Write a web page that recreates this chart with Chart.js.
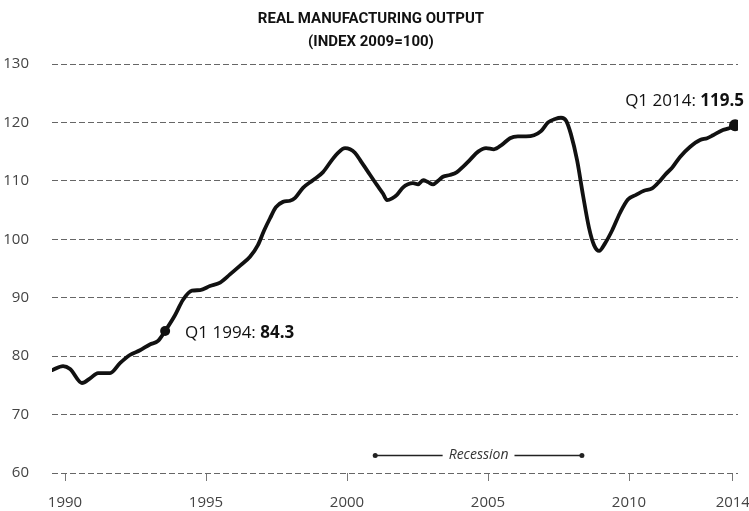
<!DOCTYPE html>
<html>
<head>
<meta charset="utf-8">
<script src="https://cdn.jsdelivr.net/npm/chart.js@4.4.1/dist/chart.umd.min.js"></script>
<style>
    html, body { margin: 0; padding: 0; background: #fff; }
    #wrap { width: 749px; height: 511px; position: relative; }
</style>
</head>
<body>
<div id="wrap"><canvas id="chart"></canvas></div>
<script>
// --- data ---
const years = [
    1989.54, 1989.93, 1990.18, 1990.60, 1990.89, 1991.17, 1991.60, 1991.95, 1992.30, 1992.66,
    1993.01, 1993.30, 1993.55, 1993.90, 1994.18, 1994.50, 1994.79, 1995.14, 1995.50, 1995.85,
    1996.21, 1996.56, 1996.84, 1997.06, 1997.27, 1997.48, 1997.73, 1997.98, 1998.16, 1998.44,
    1998.79, 1999.15, 1999.47, 1999.68, 1999.93, 2000.11, 2000.28, 2000.50, 2000.71, 2001.06,
    2001.28, 2001.42, 2001.60, 2001.77, 2001.99, 2002.16, 2002.34, 2002.52, 2002.70, 2002.87,
    2003.05, 2003.23, 2003.40, 2003.65, 2003.90, 2004.11, 2004.36, 2004.65, 2004.93, 2005.21,
    2005.50, 2005.78, 2006.06, 2006.35, 2006.63, 2006.88, 2007.13, 2007.38, 2007.59, 2007.77,
    2007.94, 2008.16, 2008.37, 2008.58, 2008.76, 2008.94, 2009.15, 2009.40, 2009.68, 2009.96,
    2010.25, 2010.53, 2010.82, 2011.10, 2011.31, 2011.52, 2011.81, 2012.16, 2012.52, 2012.77,
    2012.98, 2013.33, 2013.55, 2013.76,
];
const output = [
    77.6, 78.3, 77.8, 75.4, 76.2, 77.1, 77.1, 78.8, 80.2, 81.0,
    82.0, 82.6, 84.3, 87.0, 89.6, 91.2, 91.3, 92.0, 92.6, 94.0,
    95.5, 97.0, 99.0, 101.5, 103.6, 105.5, 106.4, 106.6, 107.1, 108.8,
    110.1, 111.5, 113.6, 114.8, 115.6, 115.4, 114.8, 113.3, 111.8, 109.3,
    107.8, 106.7, 107.0, 107.6, 108.9, 109.4, 109.6, 109.4, 110.1, 109.8,
    109.4, 110.0, 110.7, 111.0, 111.5, 112.4, 113.6, 115.0, 115.6, 115.4,
    116.2, 117.3, 117.6, 117.6, 117.8, 118.5, 120.0, 120.6, 120.8, 120.3,
    118.0, 113.5, 107.5, 102.0, 99.0, 98.0, 99.3, 101.5, 104.5, 106.8,
    107.6, 108.3, 108.7, 110.0, 111.2, 112.2, 114.1, 115.8, 117.0, 117.3,
    117.8, 118.7, 119.0, 119.5,
];

const yTicks = [60, 70, 80, 90, 100, 110, 120, 130];
const xTicks = [1990, 1995, 2000, 2005, 2010, 2013.68];
const xTickLabels = ["1990", "1995", "2000", "2005", "2010", "2014"];

// highlighted points and their captions
const calloutYears = [1993.55, 2013.76];
const calloutNames = ["Q1 1994: ", "Q1 2014: "];

const recessionSpan = [2001.0, 2008.33];
const recessionLevel = 63;
const recessionText = "Recession";

const FONT = "'Open Sans', sans-serif";
const calloutIdx = calloutYears.map(y => years.indexOf(y));

// captions next to the highlighted dots + recession label
const annotations = {
    id: "annotations",
    afterDatasetsDraw(chart) {
        const ctx = chart.ctx;
        const pts = chart.getDatasetMeta(0).data;
        ctx.save();
        ctx.fillStyle = "#111";
        ctx.textBaseline = "middle";

        calloutIdx.forEach((idx, k) => {
            const p = pts[idx];
            const name = calloutNames[k];
            const val = output[idx].toFixed(1);
            ctx.font = `17px ${FONT}`;
            const wName = ctx.measureText(name).width;
            ctx.font = `bold 17px ${FONT}`;
            const wVal = ctx.measureText(val).width;
            let x, y;
            if (k === 0) { x = p.x + 20; y = p.y + 2; }
            else { x = 744 - wName - wVal; y = p.y - 24; }
            ctx.textAlign = "left";
            ctx.font = `17px ${FONT}`;
            ctx.fillText(name, x, y);
            ctx.font = `bold 17px ${FONT}`;
            ctx.fillText(val, x + wName, y);
        });

        // recession label, centred on the bracket
        const rMeta = chart.getDatasetMeta(1).data;
        const cx = (rMeta[0].x + rMeta[1].x) / 2;
        const cy = rMeta[0].y;
        ctx.font = `italic 14px ${FONT}`;
        const w = ctx.measureText(recessionText).width;
        ctx.fillStyle = "#fff";
        ctx.fillRect(cx - w / 2 - 6, cy - 9, w + 12, 18);
        ctx.fillStyle = "#333";
        ctx.textAlign = "center";
        ctx.fillText(recessionText, cx, cy);
        ctx.restore();
    },
};

new Chart(document.getElementById("chart"), {
    type: "line",
    data: {
        datasets: [
            {
                data: years.map((y, i) => ({ x: y, y: output[i] })),
                borderColor: "#111",
                borderWidth: 3.8,
                cubicInterpolationMode: "monotone",
                pointRadius: c => calloutIdx.includes(c.dataIndex) ? (c.dataIndex === calloutIdx[1] ? 6 : 5) : 0,
                pointBackgroundColor: "#111",
                pointBorderWidth: 0,
                borderCapStyle: "round",
                borderJoinStyle: "round",
            },
            {
                data: recessionSpan.map(x => ({ x, y: recessionLevel })),
                borderColor: "#222",
                borderWidth: 1.5,
                pointRadius: 2.5,
                pointBackgroundColor: "#222",
                pointBorderWidth: 0,
            },
        ],
    },
    options: {
        responsive: true,
        maintainAspectRatio: false,
        animation: false,
        layout: { padding: { left: 4, right: 11, top: 0, bottom: 0 } },
        plugins: {
            legend: { display: false },
            tooltip: { enabled: false },
            title: {
                display: true,
                text: ["REAL MANUFACTURING OUTPUT", "(INDEX 2009=100)"],
                color: "#111",
                font: { family: "Roboto, sans-serif", size: 15, weight: "bold", lineHeight: 1.5 },
                padding: { top: 8, bottom: 11 },
            },
        },
        scales: {
            x: {
                type: "linear",
                min: 1989.539,
                max: 2013.865,
                afterBuildTicks: axis => { axis.ticks = xTicks.map(v => ({ value: v })); },
                afterFit: axis => { axis.height = 38; axis.paddingLeft = 0; axis.paddingRight = 0; },
                ticks: {
                    callback: (v, i) => xTickLabels[i],
                    color: "#444",
                    font: { family: FONT, size: 15 },
                    padding: 13,
                    maxRotation: 0,
                    autoSkip: false,
                },
                grid: { drawOnChartArea: false, drawTicks: true, tickLength: 8, color: "#777", tickWidth: 1 },
                border: { display: false },
            },
            y: {
                min: 60,
                max: 130,
                afterBuildTicks: axis => { axis.ticks = yTicks.map(v => ({ value: v })); },
                afterFit: axis => { axis.width = 48; },
                ticks: {
                    color: "#444",
                    font: { family: FONT, size: 15 },
                    padding: 23,
                },
                grid: { drawTicks: false, color: "#666", lineWidth: 1 },
                border: { display: false, dash: [6, 3] },
            },
        },
    },
    plugins: [annotations],
});
</script>
</body>
</html>
